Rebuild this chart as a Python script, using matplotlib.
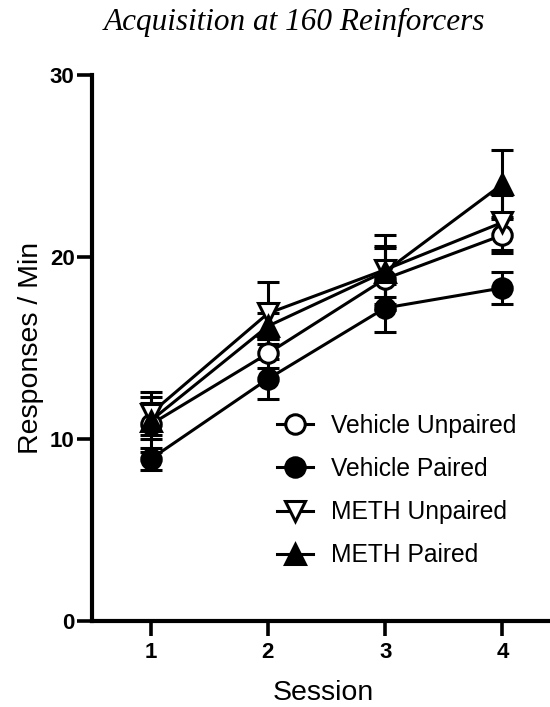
import matplotlib
matplotlib.use("Agg")
import matplotlib.pyplot as plt

# Данные: среднее и ошибка по сессиям
sessions = [1, 2, 3, 4]
vehicle_unpaired = [10.8, 14.7, 18.8, 21.2]
vehicle_unpaired_err = [1.5, 0.8, 1.7, 1.0]
vehicle_paired = [8.9, 13.3, 17.2, 18.3]
vehicle_paired_err = [0.6, 1.1, 1.3, 0.9]
meth_unpaired = [11.4, 16.9, 19.3, 21.9]
meth_unpaired_err = [1.2, 1.7, 1.9, 1.5]
meth_paired = [11.0, 16.2, 19.2, 24.0]
meth_paired_err = [1.0, 0.7, 1.4, 1.9]

series = [
    ("Vehicle Unpaired", vehicle_unpaired, vehicle_unpaired_err, "o", "white"),
    ("Vehicle Paired", vehicle_paired, vehicle_paired_err, "o", "black"),
    ("METH Unpaired", meth_unpaired, meth_unpaired_err, "v", "white"),
    ("METH Paired", meth_paired, meth_paired_err, "^", "black"),
]

plt.rcParams['font.family'] = ['Liberation Sans', 'DejaVu Sans']

fig = plt.figure(figsize=(5.5, 7.07), dpi=100)
ax = fig.add_axes([0.1673, 0.1216, 0.84, 0.7724])

lw = 2.2
for label, vals, errs, marker, face in series:
    ax.errorbar(sessions, vals, yerr=errs, color='black', lw=lw,
                elinewidth=lw, capsize=8, capthick=lw, fmt='none',
                clip_on=False, zorder=2)
    ax.plot(sessions, vals, color='black', lw=lw, marker=marker,
            markersize=14, markerfacecolor=face, markeredgecolor='black',
            markeredgewidth=2.2, label=label, clip_on=False, zorder=3)

ax.set_xlim(0.5, 4.44)
ax.set_ylim(0, 30)
ax.set_xticks(sessions)
ax.set_yticks([0, 10, 20, 30])
for s in ['top', 'right']:
    ax.spines[s].set_visible(False)
for s in ['left', 'bottom']:
    ax.spines[s].set_linewidth(3)
ax.tick_params(axis='both', direction='out', length=11, width=2.6,
               labelsize=16)
ax.tick_params(axis='y', pad=1.5)
ax.tick_params(axis='x', pad=4)
for t in ax.get_xticklabels() + ax.get_yticklabels():
    t.set_fontweight('bold')

ax.set_ylabel('Responses / Min', fontsize=20.5, labelpad=4)
ax.set_xlabel('Session', fontsize=20.5, labelpad=12)

fig.text(0.536, 0.968, 'Acquisition at 160 Reinforcers', ha='center',
         va='center', fontsize=22.5, style='italic', family='Liberation Serif')

ax.legend(loc='center left', bbox_to_anchor=(0.5036, 0.306),
          bbox_transform=fig.transFigure, frameon=False, fontsize=17.7,
          handlelength=1.45, handletextpad=0.75, labelspacing=0.78,
          borderpad=0, borderaxespad=0, numpoints=1)

plt.savefig('out.png', dpi=100)
